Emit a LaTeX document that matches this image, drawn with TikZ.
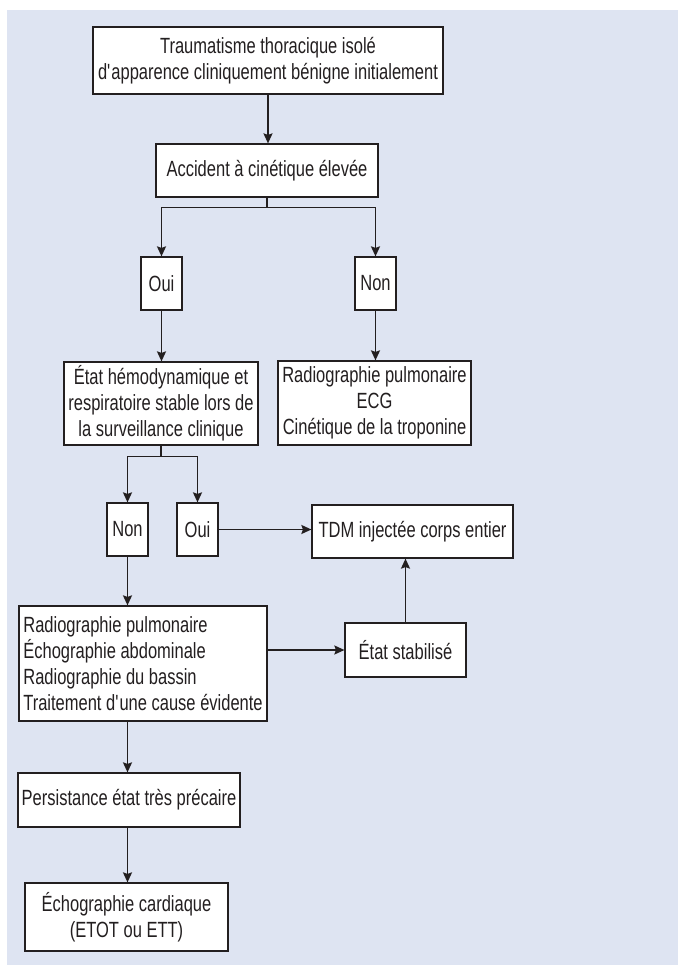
\documentclass[tikz,border=0pt]{standalone}
\usepackage{fontspec}
\setmainfont{Liberation Sans}[FakeStretch=0.75]
\usetikzlibrary{arrows.meta,calc}
\definecolor{fondbleu}{RGB}{222,228,242}
\definecolor{encre}{RGB}{35,31,32}

\begin{document}
\begin{tikzpicture}[x=1pt, y=-1pt,
    boite/.style={draw=encre, fill=white, line width=1.2pt, text=encre, align=center,
      inner sep=3pt, font=\fontsize{22}{26}\selectfont},
    reponse/.style={boite, minimum width=41pt, minimum height=53pt},
    >={Stealth[length=10pt, width=9pt, inset=1.5pt]},
    fleche/.style={->, draw=encre, line width=1.6pt}]
    \useasboundingbox (0,0) rectangle (678,966);
    \fill[fondbleu] (7,10) rectangle (678,965);

    % Depart
    \node[boite, minimum width=350pt, minimum height=67pt] (trauma) at (268,60.5)
      {Traumatisme thoracique isolé\\d\textquotesingle apparence cliniquement bénigne initialement};
    \node[boite, minimum width=222pt, minimum height=53pt] (cinetique) at (267,170.5)
      {Accident à cinétique élevée};
    \draw[fleche] (trauma.south) -- (trauma.south |- cinetique.north);

    % Cinetique elevee : oui / non
    \node[reponse] (oui1) at (161.5,283.5) {Oui};
    \node[reponse] (non1) at (375.5,283.5) {Non};
    \draw[fleche] (cinetique.south) -- ++(0,10) -| (oui1.north);
    \draw[fleche] (cinetique.south) -- ++(0,10) -| (non1.north);

    \node[boite, minimum width=194pt, minimum height=83pt] (hemodyn) at (161,403.5)
      {État hémodynamique et\\respiratoire stable lors de\\la surveillance clinique};
    \node[boite, minimum width=193pt, minimum height=84pt] (bilan) at (374.5,403)
      {Radiographie pulmonaire\\ECG\\Cinétique de la troponine};
    \draw[fleche] (oui1.south) -- (oui1.south |- hemodyn.north);
    \draw[fleche] (non1.south) -- (non1.south |- bilan.north);

    % Stabilite : non / oui
    \node[reponse] (non2) at (127.5,529.5) {Non};
    \node[reponse] (oui2) at (197.5,529.5) {Oui};
    \draw[fleche] (hemodyn.south) -- ++(0,11) -| (non2.north);
    \draw[fleche] (hemodyn.south) -- ++(0,11) -| (oui2.north);

    \node[boite, minimum width=201pt, minimum height=53pt] (tdm) at (412.5,531.5)
      {TDM injectée corps entier};
    \draw[fleche] (oui2.east) -- (oui2.east -| tdm.west);

    % Instable
    \node[boite, align=left, minimum width=248pt, minimum height=115pt]
      (examens) at (143,663.5)
      {Radiographie pulmonaire\\Échographie abdominale\\Radiographie du bassin\\Traitement d\textquotesingle une cause évidente};
    \draw[fleche] (non2.south) -- (non2.south |- examens.north);

    \node[boite, minimum width=121pt, minimum height=54pt] (stabilise) at (405.5,650)
      {État stabilisé};
    \draw[fleche] (examens.east |- stabilise) -- (stabilise.west);
    \draw[fleche] (stabilise.north) -- (stabilise.north |- tdm.south);

    \node[boite, minimum width=222pt, minimum height=54pt] (precaire) at (129,800)
      {Persistance état très précaire};
    \draw[fleche] (non2.south |- examens.south) -- (non2.south |- precaire.north);

    \node[boite, minimum width=203pt, minimum height=68pt] (echo) at (126.5,917)
      {Échographie cardiaque\\(ETOT ou ETT)};
    \draw[fleche] (non2.south |- precaire.south) -- (non2.south |- echo.north);
\end{tikzpicture}
\end{document}
